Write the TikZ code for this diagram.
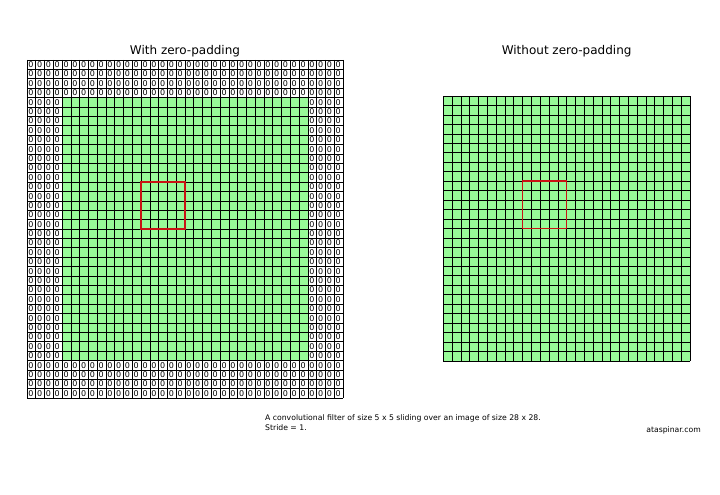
\documentclass[tikz,border=0pt]{standalone}
\usepackage{fontspec}
\setmainfont{DejaVu Sans}
\definecolor{cellgreen}{RGB}{152,251,152}
\definecolor{filterred}{RGB}{200,20,20}
\begin{document}
\begin{tikzpicture}[x=1pt,y=-1pt,
  gridline/.style={black, line width=0.6pt},
  zero/.style={font=\fontsize{8}{8}\selectfont, inner sep=0pt, anchor=west},
  filterbox/.style={draw=filterred, line width=1.4pt},
  title/.style={font=\fontsize{12}{12}\selectfont, inner sep=0pt, anchor=base},
  small/.style={font=\fontsize{7.7}{10}\selectfont, inner sep=0pt, align=left}]
\useasboundingbox (0,0) rectangle (720,495);
% ---------- left grid (with zero padding) ----------
\def\LX{27}\def\LY{60}\def\LW{8.7778}\def\LH{9.3889}
\fill[cellgreen] (\LX+4*\LW,\LY+4*\LH) rectangle (\LX+32*\LW,\LY+32*\LH);
\foreach \r in {0,1,2,3,32,33,34,35}
  \foreach \c in {0,...,35}
    \node[zero] (zl-\r-\c) at (\LX+\c*\LW+1.2,\LY+\r*\LH+0.5*\LH) {0};
\foreach \r in {4,...,31}
  \foreach \c in {0,1,2,3,32,33,34,35}
    \node[zero] (zl-\r-\c) at (\LX+\c*\LW+1.2,\LY+\r*\LH+0.5*\LH) {0};
\foreach \k in {0,...,36} {
  \draw[gridline] (\LX+\k*\LW,\LY) -- (\LX+\k*\LW,\LY+36*\LH);
  \draw[gridline] (\LX,\LY+\k*\LH) -- (\LX+36*\LW,\LY+\k*\LH);
}
\draw[filterbox] (\LX+13*\LW,\LY+13*\LH) rectangle (\LX+18*\LW,\LY+18*\LH);
\node[title] (t1) at (\LX+18*\LW,54.5) {With zero-padding};
% ---------- right grid (without zero padding) ----------
\def\RX{443.3}\def\RY{96}\def\RW{8.81}\def\RH{9.46}
\fill[cellgreen] (\RX,\RY) rectangle (\RX+28*\RW,\RY+28*\RH);
\foreach \k in {0,...,28} {
  \draw[gridline] (\RX+\k*\RW,\RY) -- (\RX+\k*\RW,\RY+28*\RH);
  \draw[gridline] (\RX,\RY+\k*\RH) -- (\RX+28*\RW,\RY+\k*\RH);
}
\draw[filterbox] (\RX+9*\RW,\RY+9*\RH) rectangle (\RX+14*\RW,\RY+14*\RH);
\node[title] (t2) at (\RX+14*\RW,54.5) {Without zero-padding};
% ---------- captions ----------
\node[small, anchor=base west] (cap) at (265,430) {A convolutional filter of size 5 x 5 sliding over an image of size 28 x 28.\\Stride = 1.};
\node[small, anchor=base east] (site) at (701,432) {ataspinar.com};
\end{tikzpicture}
\end{document}
